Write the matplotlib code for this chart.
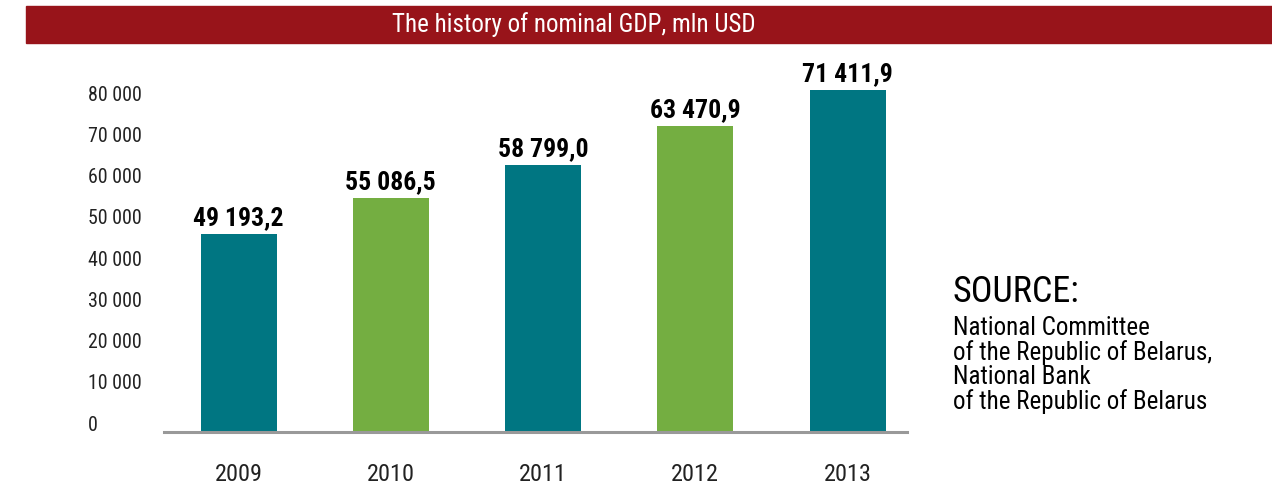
import matplotlib.pyplot as plt
from matplotlib import font_manager
from matplotlib.patches import Rectangle

years = ["2009", "2010", "2011", "2012", "2013"]
# heights of the bars as drawn in the picture (they do not follow the printed labels)
bar_heights = [48000, 56700, 64700, 74200, 82900]
value_labels = ["49 193,2", "55 086,5", "58 799,0", "63 470,9", "71 411,9"]
bar_colors = ["#007682", "#74ae41", "#007682", "#74ae41", "#007682"]
y_ticks = [0, 10000, 20000, 30000, 40000, 50000, 60000, 70000, 80000]
y_tick_labels = ["0", "10 000", "20 000", "30 000", "40 000", "50 000", "60 000", "70 000", "80 000"]
source_lines = ["National Committee", "of the Republic of Belarus,", "National Bank", "of the Republic of Belarus"]

# look for a narrow face, the original uses a condensed grotesque
installed = {f.name for f in font_manager.fontManager.ttflist}
narrow = [n for n in ["Liberation Sans Narrow", "Roboto Condensed", "DejaVu Sans Condensed",
                      "Open Sans Condensed", "Noto Sans Condensed"] if n in installed]
FONT = narrow[:1] + ["Liberation Sans", "DejaVu Sans"]
plt.rcParams["font.family"] = FONT
plt.rcParams["font.stretch"] = "condensed"

W, H = 1272, 486
fig = plt.figure(figsize=(W / 100, H / 100), dpi=100)

# title band
fig.patches.append(Rectangle((26 / W, 1 - 43 / H), 1 - 26 / W, 37 / H,
                             transform=fig.transFigure, color="#98141a", zorder=0))
fig.text(574 / W, 1 - 25 / H, "The history of nominal GDP, mln USD", color="white",
         fontsize=18, ha="center", va="center")

ax = fig.add_axes([164 / W, 54 / H, (907 - 164) / W, 371 / H])
x = list(range(len(years)))
ax.bar(x, bar_heights, width=0.5, color=bar_colors, zorder=2)
ax.set_xlim(-0.49, 4.39)
ax.set_ylim(0, 90000)

for xi, h, lab in zip(x, bar_heights, value_labels):
    ax.annotate(lab, (xi, h), xytext=(0, 3), textcoords="offset points",
                ha="center", va="bottom", fontsize=18.5, fontweight="bold")

# y labels sit a few pixels above their true level in the original
ax.set_yticks([])
for v, lab in zip(y_ticks, y_tick_labels):
    ax.annotate(lab, (0, v), xycoords=("axes fraction", "data"), xytext=(-76 * 0.72, 5),
                textcoords="offset points", ha="left", va="center", fontsize=14.3, color="#222222")

ax.set_xticks(x)
ax.set_xticklabels(years, fontsize=17.5, color="#222222")
ax.tick_params(axis="both", length=0)
ax.tick_params(axis="x", pad=22)

for s in ["top", "right", "left"]:
    ax.spines[s].set_visible(False)
ax.spines["bottom"].set_color("#999999")
ax.spines["bottom"].set_linewidth(2.2)

fig.text(953 / W, 1 - 292 / H, "SOURCE:", fontsize=26, ha="left", va="center")
for i, line in enumerate(source_lines):
    fig.text(953 / W, 1 - (328 + 24.5 * i) / H, line, fontsize=18, ha="left", va="center")

fig.savefig("out.png", dpi=100)
